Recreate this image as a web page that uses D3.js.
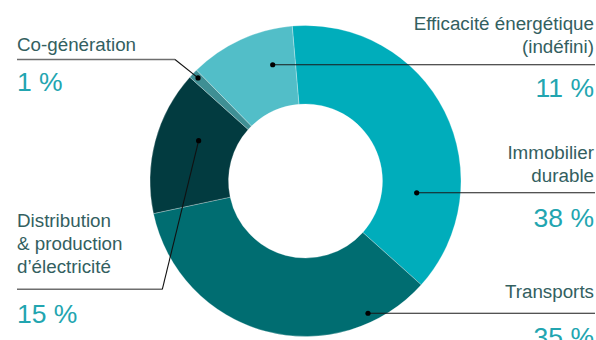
<!DOCTYPE html>
<html>
<head>
<meta charset="utf-8">
<script src="https://cdn.jsdelivr.net/npm/d3@7"></script>
<style>
  html, body { margin: 0; padding: 0; background: #fff; }
  svg { display: block; }
  text { font-family: "Liberation Sans", Arial, sans-serif; font-weight: 400; }
</style>
</head>
<body>
<svg id="chart" width="596" height="340"></svg>
<script>
// Répartition des montants par catégorie (%)
const categories = ["Immobilier durable", "Transports", "Distribution & production d’électricité", "Co-génération", "Efficacité énergétique (indéfini)"];
const shares = [38, 35, 15, 1, 11];
const labelLines = [
  ["Immobilier", "durable"],
  ["Transports"],
  ["Distribution", "& production", "d’électricité"],
  ["Co-génération"],
  ["Efficacité énergétique", "(indéfini)"]
];
const sliceColors = ["#00adbb", "#006d71", "#023b40", "#3f8f94", "#52bec8"];

// Layout of the ring and of each annotation (dot inside the slice, leader, texts)
const W = 596, H = 340;
const cx = 305.5, cy = 181, outerR = 155.5, innerR = 77;
const startDeg = -4.9;
const annot = [
  { side: "right", t: 0.738, r: 111.8, textGap: 10.5, pctGap: 34 },
  { side: "right", t: 0.181, r: 146.3, textGap: 15,   pctGap: 33 },
  { side: "left",  t: 0.607, r: 114.2, lineY: 289.3, elbowX: 162.3, textGap: 16, pctGap: 34 },
  { side: "left",  t: 0.53,  r: 148.9, lineY: 59.5,  elbowX: 175,   textGap: 8.5, pctGap: 31 },
  { side: "right", t: 0.726, r: 120.8, textGap: 12,  pctGap: 32 }
];
const lineH = 23;
const leftX = 17, rightX = 594;

const svg = d3.select("#chart");
const g = svg.append("g").attr("transform", `translate(${cx},${cy})`);

const start = startDeg * Math.PI / 180;
const pie = d3.pie().sort(null).value(d => d).startAngle(start).endAngle(start + 2 * Math.PI);
const arcs = pie(shares);
const arc = d3.arc().innerRadius(innerR).outerRadius(outerR);

g.selectAll("path.slice")
  .data(arcs)
  .join("path")
  .attr("class", "slice")
  .attr("d", arc)
  .attr("fill", (d, i) => sliceColors[i])
  .attr("stroke", "rgba(255,255,255,0.45)")
  .attr("stroke-width", 0.6);

// Annotations
const ann = svg.append("g");
arcs.forEach((a, i) => {
  const L = annot[i];
  const ang = a.startAngle + L.t * (a.endAngle - a.startAngle);
  const dx = cx + L.r * Math.sin(ang);
  const dy = cy - L.r * Math.cos(ang);

  let lineY;
  if (L.side === "right") {
    lineY = dy;
    ann.append("line")
      .attr("x1", dx).attr("y1", lineY).attr("x2", W - 1).attr("y2", lineY)
      .attr("stroke", "#1a1a1a").attr("stroke-width", 1.1);
  } else {
    lineY = L.lineY;
    ann.append("line")
      .attr("x1", leftX).attr("y1", lineY).attr("x2", L.elbowX).attr("y2", lineY)
      .attr("stroke", "#6e6e6e").attr("stroke-width", 1.6);
    ann.append("line")
      .attr("x1", L.elbowX).attr("y1", lineY).attr("x2", dx).attr("y2", dy)
      .attr("stroke", "#111").attr("stroke-width", 1.1);
  }
  ann.append("circle").attr("cx", dx).attr("cy", dy).attr("r", 2.6).attr("fill", "#000");

  const x = L.side === "right" ? rightX : leftX;
  const anchor = L.side === "right" ? "end" : "start";
  const lines = labelLines[i];
  const lastBase = lineY - L.textGap;
  lines.forEach((txt, k) => {
    ann.append("text")
      .attr("x", x)
      .attr("y", lastBase - (lines.length - 1 - k) * lineH)
      .attr("text-anchor", anchor)
      .attr("font-size", 18.8)
      .attr("fill", "#33605f")
      .text(txt);
  });
  ann.append("text")
    .attr("x", x)
    .attr("y", lineY + L.pctGap)
    .attr("text-anchor", anchor)
    .attr("font-size", 26.5)
    .attr("fill", "#22a5b0")
    .text(`${shares[i]} %`);
});
</script>
</body>
</html>
